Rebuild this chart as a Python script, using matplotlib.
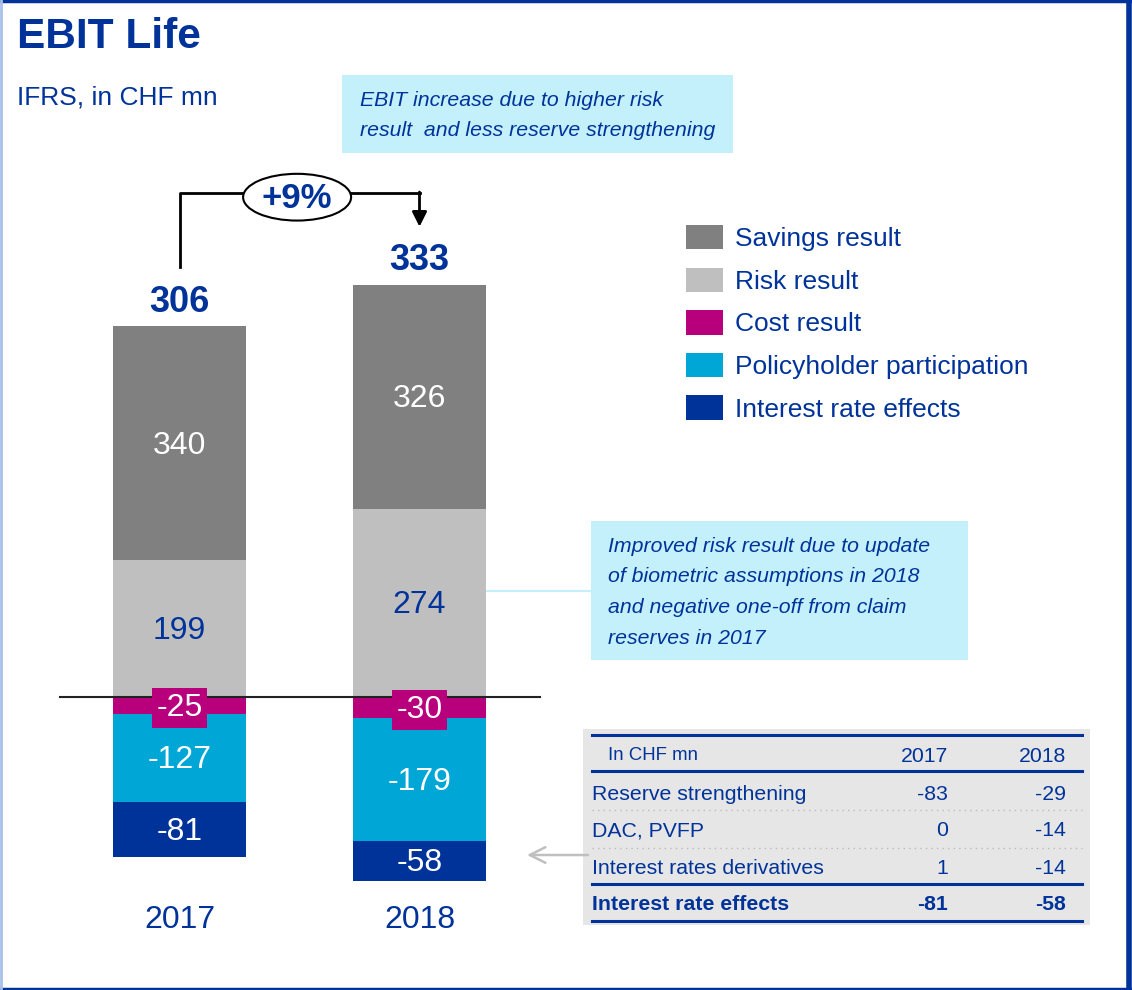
import matplotlib.pyplot as plt
from matplotlib.patches import Rectangle, Ellipse, Patch

plt.rcParams['font.family'] = ['Liberation Sans', 'DejaVu Sans']

# data
years = ['2017', '2018']
savings = [340, 326]
risk = [199, 274]
cost = [-25, -30]
policyholder = [-127, -179]
interest = [-81, -58]
totals = [306, 333]
growth = '+9%'

series_names = ['Savings result', 'Risk result', 'Cost result',
                'Policyholder participation', 'Interest rate effects']
colors = ['#808080', '#BFBFBF', '#B8007C', '#00A7D6', '#003399']

table_header = ['In CHF mn', '2017', '2018']
table_rows = ['Reserve strengthening', 'DAC, PVFP', 'Interest rates derivatives']
table_2017 = [-83, 0, 1]
table_2018 = [-29, -14, -14]
table_total = ['Interest rate effects', -81, -58]

navy = '#003399'
W, H = 1132, 990

fig = plt.figure(figsize=(W / 100, H / 100), dpi=100)

# overlay axes in pixel units for boxes / table / frame
ov = fig.add_axes([0, 0, 1, 1])
ov.set_xlim(0, W)
ov.set_ylim(H, 0)
ov.axis('off')

# bar axes: x=0 at px 179.5, 240 px per unit; y=0 at px 697, 0.6875 px per unit
ax = fig.add_axes([0, 0, 1, 1])
ax.set_xlim(-179.5 / 240, (W - 179.5) / 240)
ax.set_ylim(-(H - 697) / 0.6875, 697 / 0.6875)
ax.axis('off')
ax.patch.set_alpha(0)

x = [0, 1]
bw = 133 / 240
dy = -3.5  # small nudge so digits sit centred like the original

pos_bottom = [0, 0]
for vals, col, txtcol in [(risk, colors[1], navy), (savings, colors[0], 'white')]:
    ax.bar(x, vals, bw, bottom=pos_bottom, color=col, zorder=2)
    for i, v in enumerate(vals):
        ax.text(x[i], pos_bottom[i] + v / 2 + dy, str(v), ha='center', va='center',
                fontsize=23, color=txtcol, zorder=5)
    pos_bottom = [b + v for b, v in zip(pos_bottom, vals)]

neg_bottom = [0, 0]
for k, (vals, col) in enumerate([(cost, colors[2]), (policyholder, colors[3]), (interest, colors[4])]):
    ax.bar(x, vals, bw, bottom=neg_bottom, color=col, zorder=2)
    for i, v in enumerate(vals):
        kw = {}
        if k == 0:
            kw['bbox'] = dict(boxstyle='square,pad=0.15', fc=col, ec='none')
        ax.text(x[i], neg_bottom[i] + v / 2 + dy, str(v), ha='center', va='center',
                fontsize=23, color='white', zorder=5, **kw)
    neg_bottom = [b + v for b, v in zip(neg_bottom, vals)]

ax.plot([-0.5, 1.5], [0, 0], color='#222222', lw=1.5, zorder=3)

# totals
for i, t in enumerate(totals):
    ax.annotate(str(t), (x[i], pos_bottom[i]), xytext=(0, 17), textcoords='offset points',
                ha='center', va='center', fontsize=26, fontweight='bold', color=navy)

for i, yr in enumerate(years):
    ax.text(x[i], -324, yr, ha='center', va='center', fontsize=23, color=navy)

# growth bracket
ytop = 733
ax.plot([0, 0, 0.265], [pos_bottom[0] + 86, ytop, ytop], color='black', lw=2)
ax.plot([0.715, 1], [ytop, ytop], color='black', lw=2)
ax.annotate('', xy=(1, pos_bottom[1] + 84), xytext=(1, ytop + 1.5),
            arrowprops=dict(arrowstyle='-|>', color='black', lw=2, mutation_scale=22,
                            shrinkA=0, shrinkB=0))
ax.add_patch(Ellipse((0.49, ytop - 6), 0.45, 68, fc='white', ec='black', lw=1.5, zorder=4))
ax.text(0.49, ytop - 8, growth, ha='center', va='center', fontsize=25, fontweight='bold',
        color=navy, zorder=5)

# legend
handles = [Patch(facecolor=c, edgecolor='none') for c in colors]
fig.legend(handles, series_names, loc='upper left', bbox_to_anchor=(686 / W, 1 - 225 / H),
           frameon=False, fontsize=19, handlelength=1.4, handleheight=1.05,
           labelspacing=0.62, handletextpad=0.45, borderpad=0, borderaxespad=0,
           labelcolor=navy)

# title
ov.text(17, 37, 'EBIT Life', fontsize=30.5, fontweight='bold', color=navy, va='center')
ov.text(17, 97, 'IFRS, in CHF mn', fontsize=19, color=navy, va='center')

# comment boxes
box_c = '#C4F0FC'
ov.add_patch(Rectangle((342, 75), 391, 78, fc=box_c, ec='none'))
ov.text(360, 100, 'EBIT increase due to higher risk', fontsize=15.3, style='italic', color=navy, va='center')
ov.text(360, 131, 'result  and less reserve strengthening', fontsize=15.3, style='italic', color=navy, va='center')

ov.add_patch(Rectangle((591, 521), 377, 139, fc=box_c, ec='none'))
ov.plot([486, 591], [591, 591], color=box_c, lw=1.5)
for j, line in enumerate(['Improved risk result due to update', 'of biometric assumptions in 2018',
                          'and negative one-off from claim', 'reserves in 2017']):
    ov.text(608, 546 + j * 30.7, line, fontsize=15.3, style='italic', color=navy, va='center')

# table
fs = 15.3
ov.add_patch(Rectangle((583, 729), 507, 196, fc='#E6E6E6', ec='none'))
for yy in [735, 771, 884, 921]:
    ov.plot([592, 1082], [yy, yy], color=navy, lw=2.2)
for yy in [810, 848]:
    ov.plot([592, 1082], [yy, yy], color='#BBBBBB', lw=1, ls=(0, (1, 3)))
ov.text(608, 756, table_header[0], fontsize=13.4, color=navy, va='center')
ov.text(948, 756, table_header[1], fontsize=fs, color=navy, va='center', ha='right')
ov.text(1066, 756, table_header[2], fontsize=fs, color=navy, va='center', ha='right')
for j, name in enumerate(table_rows):
    yy = 794 + j * 37
    ov.text(592, yy, name, fontsize=fs, color=navy, va='center')
    ov.text(948, yy, str(table_2017[j]), fontsize=fs, color=navy, va='center', ha='right')
    ov.text(1066, yy, str(table_2018[j]), fontsize=fs, color=navy, va='center', ha='right')
ov.text(592, 905, table_total[0], fontsize=fs, fontweight='bold', color=navy, va='center')
ov.text(948, 905, str(table_total[1]), fontsize=fs, fontweight='bold', color=navy, va='center', ha='right')
ov.text(1066, 905, str(table_total[2]), fontsize=fs, fontweight='bold', color=navy, va='center', ha='right')

ov.annotate('', xy=(527, 855), xytext=(588, 855),
            arrowprops=dict(arrowstyle='->', color='#BFBFBF', lw=1.8, mutation_scale=28,
                            shrinkA=0, shrinkB=0))

# frame
ov.plot([0, W], [1, 1], color=navy, lw=2.5, clip_on=False)
ov.plot([0, W], [988.5, 988.5], color=navy, lw=2.5, clip_on=False)
ov.plot([1128.5, 1128.5], [0, H], color=navy, lw=4, clip_on=False)
ov.plot([1, 1], [0, H], color='#A8C0E8', lw=2, clip_on=False)

fig.savefig('out.png', dpi=100)
